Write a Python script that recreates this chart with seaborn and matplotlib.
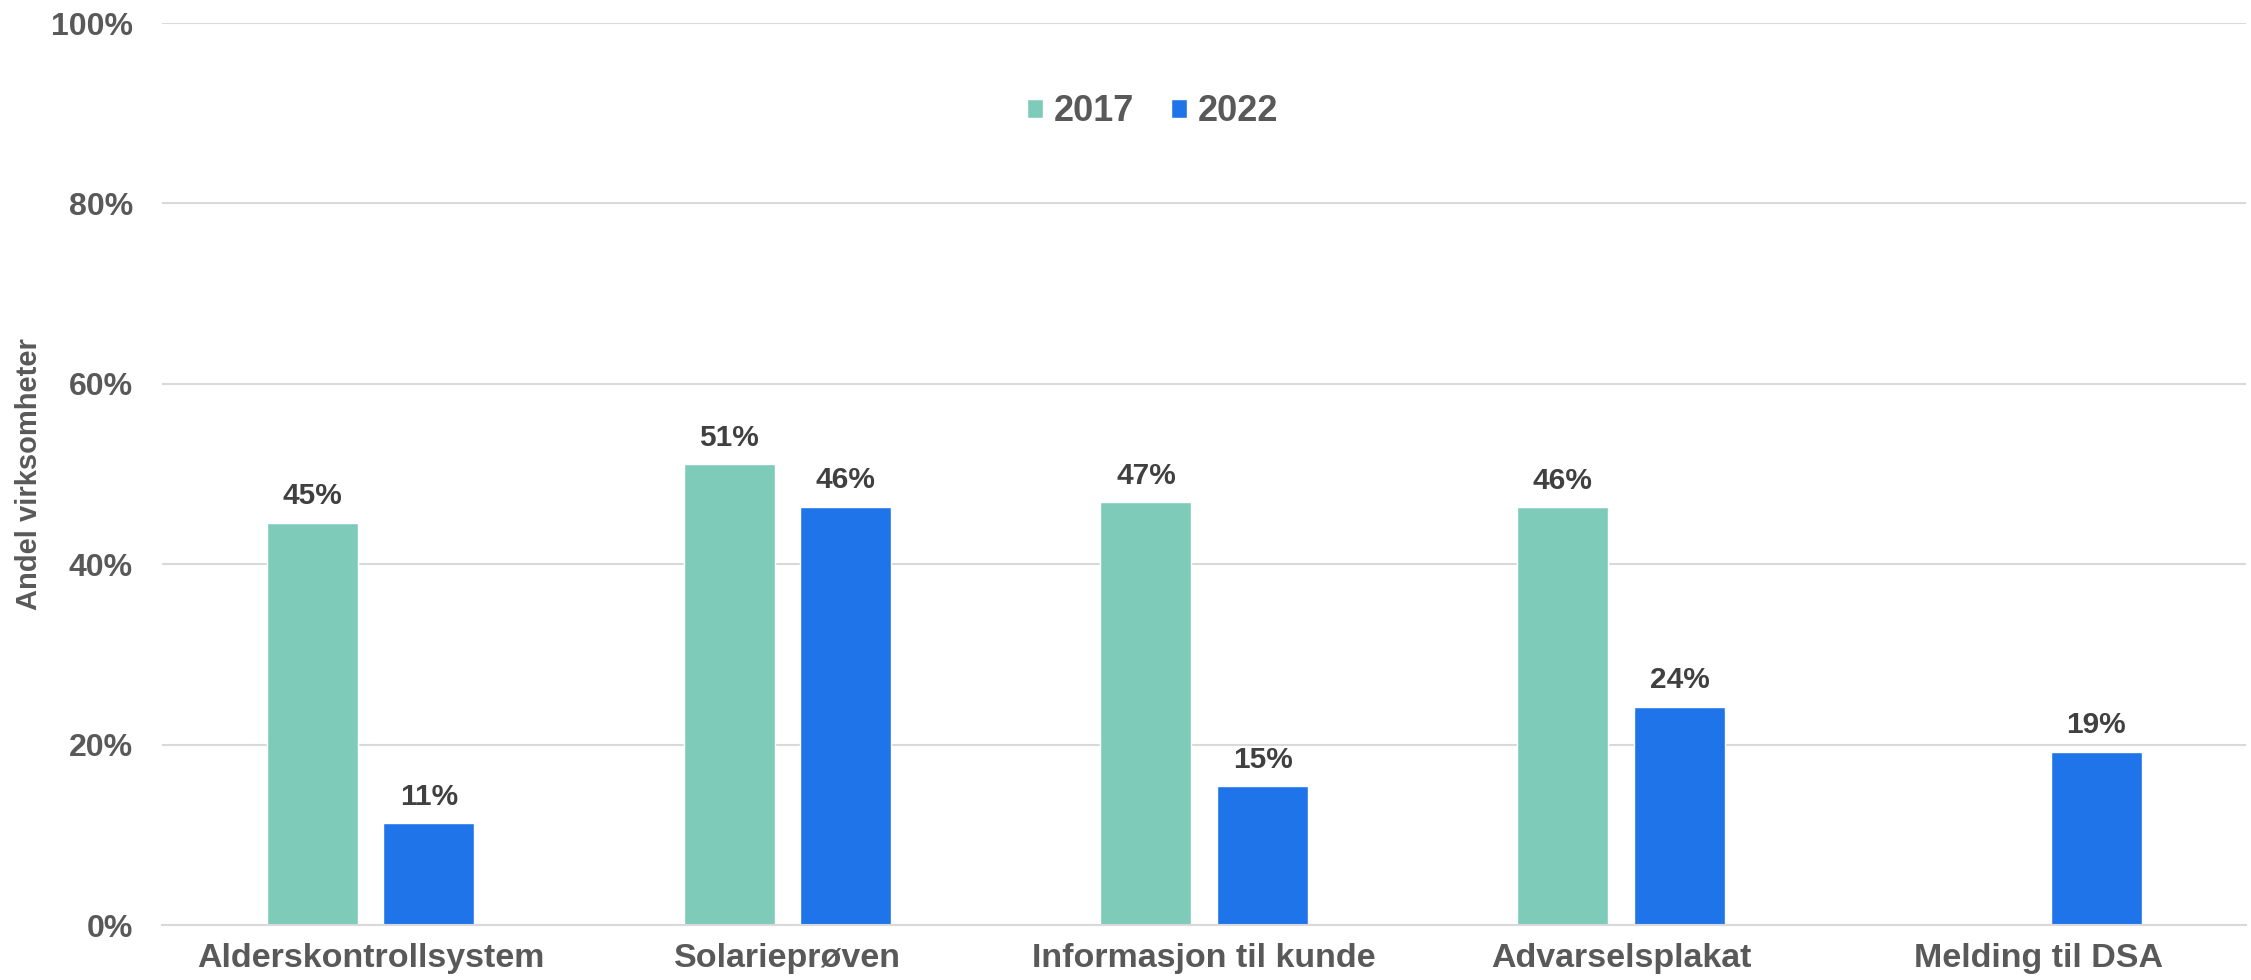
import matplotlib
matplotlib.use("Agg")
import matplotlib.pyplot as plt
import seaborn as sns
import pandas as pd
import numpy as np

# Data
categories = ['Alderskontrollsystem', 'Solarieprøven', 'Informasjon til kunde',
              'Advarselsplakat', 'Melding til DSA']
years = ['2017', '2022']
values_2017 = [44.6, 51.1, 46.9, 46.3, np.nan]
values_2022 = [11.3, 46.4, 15.4, 24.2, 19.2]
yticks = [0, 20, 40, 60, 80, 100]
colors = {'2017': '#7FCBBA', '2022': '#1F74E9'}

df = pd.DataFrame({
    'Kategori': categories * 2,
    'År': ['2017'] * len(categories) + ['2022'] * len(categories),
    'Andel': values_2017 + values_2022,
})

sns.set_style("white")
plt.rcParams['font.family'] = ['Liberation Sans', 'DejaVu Sans']
plt.rcParams['font.weight'] = 'bold'

fig = plt.figure(figsize=(22.51, 9.8), dpi=100)
ax = fig.add_axes([0.072, 0.056, 0.926, 0.9205])

sns.barplot(data=df, x='Kategori', y='Andel', hue='År', hue_order=years,
            palette=colors, width=0.56, gap=0.22, saturation=1,
            order=categories, ax=ax, legend=True)

# Value labels above bars
for c in ax.containers:
    labels = ['' if np.isnan(v) else f"{v:.0f}%" for v in c.datavalues]
    ax.bar_label(c, labels=labels, padding=9, fontsize=21.5, fontweight='bold',
                 color='#404040')

ax.set_ylim(0, 100)
ax.set_yticks(yticks)
ax.set_yticklabels([f"{t}%" for t in yticks])
ax.yaxis.grid(True, color='#D9D9D9', linewidth=1.5)
ax.set_axisbelow(True)
for s in ['top', 'right', 'left']:
    ax.spines[s].set_visible(False)
ax.spines['bottom'].set_color('#D9D9D9')
ax.spines['bottom'].set_linewidth(1.5)

ax.tick_params(axis='y', length=0, pad=21, labelsize=23, labelcolor='#595959')
ax.tick_params(axis='x', length=0, pad=13, labelsize=24.5, labelcolor='#595959')
for lbl in ax.get_xticklabels() + ax.get_yticklabels():
    lbl.set_fontweight('bold')

ax.set_xlabel('')
ax.set_ylabel('Andel virksomheter', fontsize=21, color='#595959',
              family=['Liberation Sans Narrow', 'Liberation Sans'], fontweight='bold')
ax.yaxis.set_label_coords(-0.057, 0.5)

ax.legend_.remove()
handles, labs = ax.get_legend_handles_labels()
fig.legend(handles, labs, loc='center', bbox_to_anchor=(0.512, 0.886), ncol=2,
           frameon=False, prop={'weight': 'bold', 'size': 26},
           handlelength=0.45, handleheight=0.45, handletextpad=0.3, columnspacing=1.0,
           labelcolor='#595959')

fig.savefig('out.png', dpi=100)
